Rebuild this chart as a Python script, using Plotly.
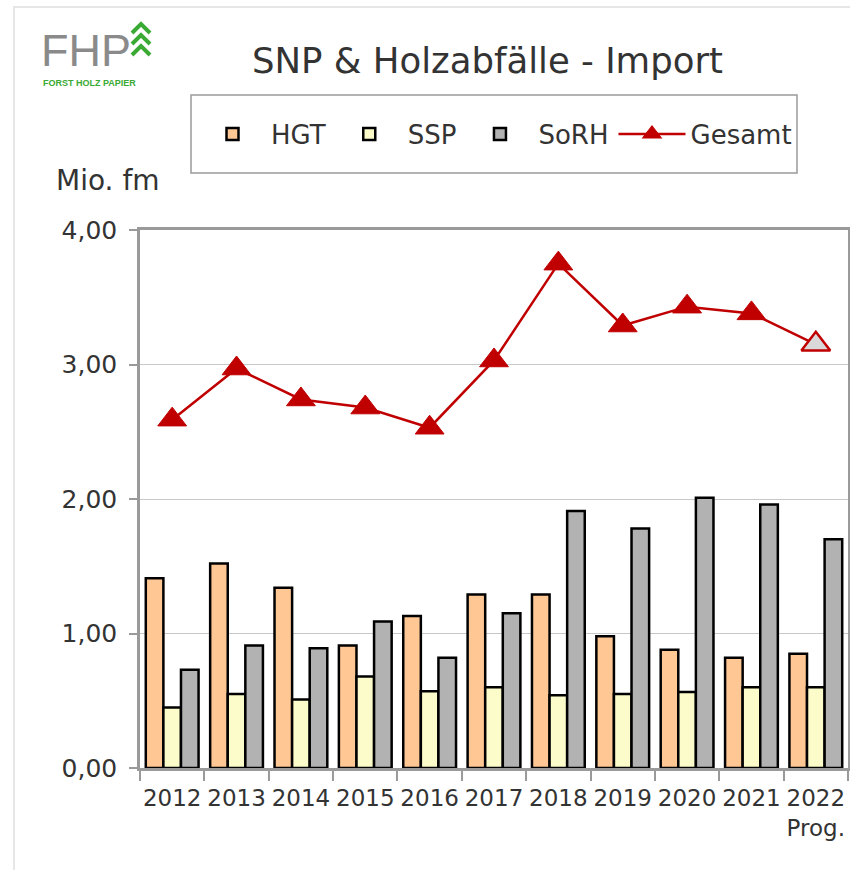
import plotly.graph_objects as go

years = ["2012", "2013", "2014", "2015", "2016", "2017", "2018", "2019", "2020", "2021", "2022"]
tick_labels = ["2012", "2013", "2014", "2015", "2016", "2017", "2018", "2019", "2020", "2021", "2022<br>Prog."]
hgt = [1.41, 1.52, 1.34, 0.91, 1.13, 1.29, 1.29, 0.98, 0.88, 0.82, 0.85]
ssp = [0.45, 0.55, 0.51, 0.68, 0.57, 0.60, 0.54, 0.55, 0.565, 0.60, 0.60]
sorh = [0.73, 0.91, 0.89, 1.09, 0.82, 1.15, 1.91, 1.78, 2.01, 1.96, 1.70]
gesamt = [2.59, 2.97, 2.74, 2.68, 2.53, 3.03, 3.75, 3.29, 3.43, 3.38, 3.15]

W, H = 850, 870
L, R, T, B = 140, 2, 230, 102
PW, PH = W - L - R, H - T - B


def px(x):
    return (x - L) / PW


def py(y):
    return (H - B - y) / PH


FONT = "DejaVu Sans"
TXT = "#333333"

fig = go.Figure()
line_style = dict(color="black", width=2.5)
fig.add_trace(go.Bar(x=years, y=hgt, name="HGT", marker=dict(color="#FFC794", line=line_style)))
fig.add_trace(go.Bar(x=years, y=ssp, name="SSP", marker=dict(color="#FCFCCB", line=line_style)))
fig.add_trace(go.Bar(x=years, y=sorh, name="SoRH", marker=dict(color="#B2B2B2", line=line_style)))

mcolors = ["#C00000"] * (len(years) - 1) + ["#D9D9D9"]
mlw = [1] * (len(years) - 1) + [2.5]
fig.add_trace(go.Scatter(
    x=years, y=gesamt, name="Gesamt", mode="lines+markers",
    line=dict(color="#C00000", width=2.5),
    marker=dict(symbol="triangle-up", size=25, color=mcolors,
                line=dict(color="#C00000", width=mlw)),
))

shapes = [
    # outer light border
    dict(type="rect", xref="paper", yref="paper", x0=px(14), y0=py(H + 40), x1=px(W + 40), y1=py(7),
         line=dict(color="#E6E6E6", width=2), layer="below"),
    # legend box
    dict(type="rect", xref="paper", yref="paper", x0=px(191), y0=py(173), x1=px(797), y1=py(95),
         line=dict(color="#9A9A9A", width=1.5), fillcolor="white", layer="below"),
]
# logo chevrons
for i in range(3):
    yt = 24 + 11 * i
    path = "M {:.5f},{:.5f} L {:.5f},{:.5f} L {:.5f},{:.5f}".format(
        px(132), py(yt + 9), px(141), py(yt), px(150), py(yt + 9))
    shapes.append(dict(type="path", xref="paper", yref="paper", path=path,
                       line=dict(color="#3AAA35", width=4)))

annotations = [
    dict(text="SNP & Holzabfälle - Import", x=px(487), y=py(60), xref="paper", yref="paper",
         xanchor="center", yanchor="middle", showarrow=False, font=dict(family=FONT, size=35.5, color=TXT)),
    dict(text="Mio. fm", x=px(54), y=py(180), xref="paper", yref="paper",
         xanchor="left", yanchor="middle", showarrow=False, font=dict(family=FONT, size=28, color=TXT)),
    dict(text="FHP", x=px(39), y=py(50), xref="paper", yref="paper",
         xanchor="left", yanchor="middle", showarrow=False,
         font=dict(family="Liberation Sans", size=45, color="#8A8A8A")),
    dict(text="<b>FORST HOLZ PAPIER</b>", x=px(41), y=py(83), xref="paper", yref="paper",
         xanchor="left", yanchor="middle", showarrow=False,
         font=dict(family="Liberation Sans", size=9, color="#3AAA35")),
]

fig.update_layout(
    width=W, height=H,
    margin=dict(l=L, r=R, t=T, b=B, pad=0, autoexpand=False),
    paper_bgcolor="white", plot_bgcolor="white",
    separators=",.",
    barmode="group", bargap=0.18, bargroupgap=0,
    showlegend=True,
    legend=dict(orientation="h", x=px(194), y=py(134), xanchor="left", yanchor="middle",
                font=dict(family=FONT, size=26, color=TXT), bgcolor="rgba(0,0,0,0)",
                itemwidth=67, traceorder="normal"),
    shapes=shapes,
    annotations=annotations,
    font=dict(family=FONT, color=TXT),
)
fig.update_xaxes(
    type="category", tickmode="array", tickvals=years, ticktext=tick_labels, tickangle=0,
    range=[-0.5, len(years) - 0.5], autorange=False,
    tickson="boundaries", ticks="outside", ticklen=10, tickcolor="#9A9A9A", tickwidth=1.5,
    showline=True, linecolor="#9A9A9A", linewidth=2.5, mirror=True, showgrid=False,
    tickfont=dict(family=FONT, size=23, color=TXT), ticklabelstandoff=8,
)
fig.update_yaxes(
    range=[0, 4], dtick=1, tickformat=".2f",
    ticks="outside", ticklen=8, tickcolor="#9A9A9A", tickwidth=1.5,
    showline=True, linecolor="#9A9A9A", linewidth=2.5, mirror=True,
    showgrid=True, gridcolor="#C8C8C8", gridwidth=1, zeroline=False,
    tickfont=dict(family=FONT, size=25, color=TXT), ticklabelstandoff=7,
)

# remove the page's default body margin so the figure sits at the window corner
fig.write_html("out.html", config={"displayModeBar": False},
               post_script="document.body.style.margin='0';document.body.style.overflow='hidden';")
